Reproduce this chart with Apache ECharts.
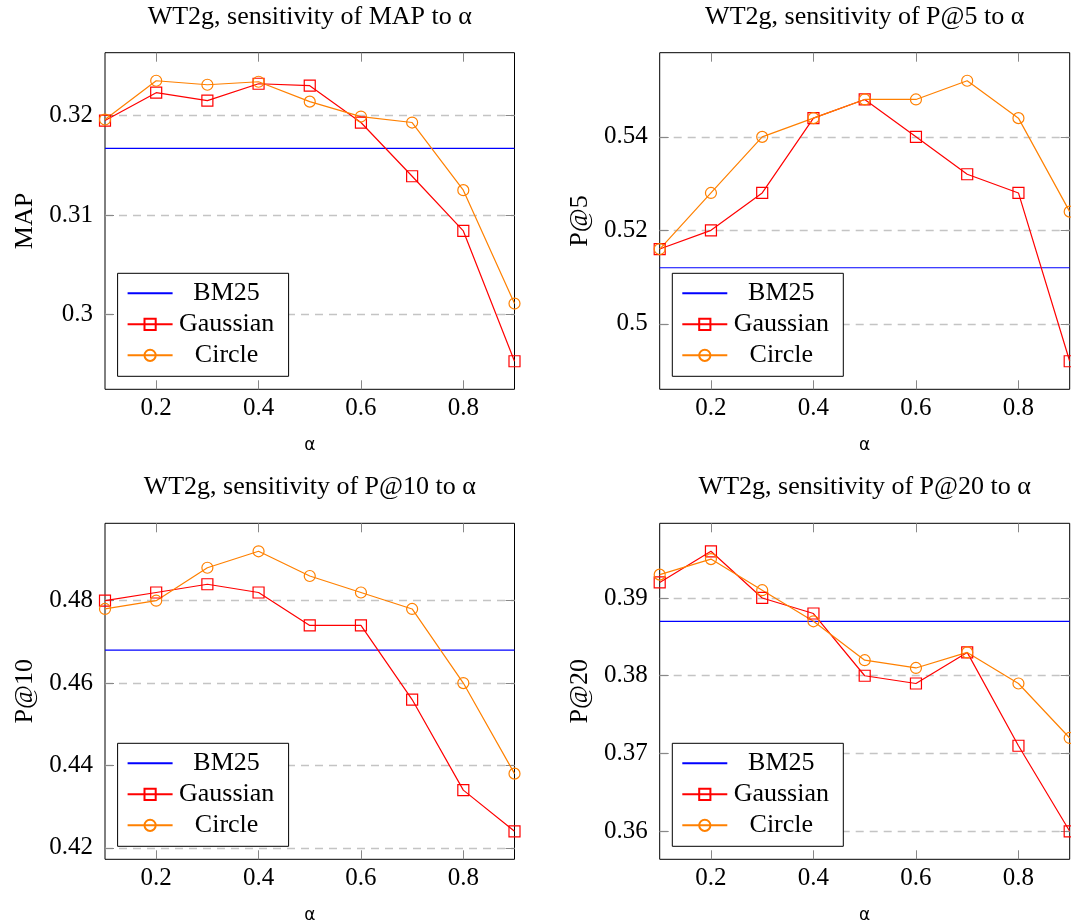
<!DOCTYPE html>
<html>
<head>
<meta charset="utf-8">
<script src="https://cdn.jsdelivr.net/npm/echarts@6/dist/echarts.min.js"></script>
<style>
  html, body { margin: 0; padding: 0; background: #fff; }
  #chart { width: 1071px; height: 920px; }
</style>
</head>
<body>
<div id="chart"></div>
<script>
// x values shared by all four panels
const alphas = [0.1, 0.2, 0.3, 0.4, 0.5, 0.6, 0.7, 0.8, 0.9];
const xTicks = [0.2, 0.4, 0.6, 0.8];

const mapGaussian = [0.3195, 0.3223, 0.3215, 0.3232, 0.3230, 0.3193, 0.3139, 0.3084, 0.2953];
const mapCircle = [0.3196, 0.3235, 0.3231, 0.3234, 0.3214, 0.3199, 0.3193, 0.3125, 0.3011];
const mapBM25 = 0.3167;
const mapTicks = [0.30, 0.31, 0.32];

const p5Gaussian = [0.516, 0.520, 0.528, 0.544, 0.548, 0.540, 0.532, 0.528, 0.492];
const p5Circle = [0.516, 0.528, 0.540, 0.544, 0.548, 0.548, 0.552, 0.544, 0.524];
const p5BM25 = 0.512;
const p5Ticks = [0.50, 0.52, 0.54];

const p10Gaussian = [0.480, 0.482, 0.484, 0.482, 0.474, 0.474, 0.456, 0.434, 0.424];
const p10Circle = [0.478, 0.480, 0.488, 0.492, 0.486, 0.482, 0.478, 0.460, 0.438];
const p10BM25 = 0.468;
const p10Ticks = [0.42, 0.44, 0.46, 0.48];

const p20Gaussian = [0.392, 0.396, 0.390, 0.388, 0.380, 0.379, 0.383, 0.371, 0.360];
const p20Circle = [0.393, 0.395, 0.391, 0.387, 0.382, 0.381, 0.383, 0.379, 0.372];
const p20BM25 = 0.387;
const p20Ticks = [0.36, 0.37, 0.38, 0.39];

const panels = [
  { title: "WT2g, sensitivity of MAP to α", yName: "MAP", gaussian: mapGaussian, circle: mapCircle, bm25: mapBM25, yTicks: mapTicks },
  { title: "WT2g, sensitivity of P@5 to α", yName: "P@5", gaussian: p5Gaussian, circle: p5Circle, bm25: p5BM25, yTicks: p5Ticks },
  { title: "WT2g, sensitivity of P@10 to α", yName: "P@10", gaussian: p10Gaussian, circle: p10Circle, bm25: p10BM25, yTicks: p10Ticks },
  { title: "WT2g, sensitivity of P@20 to α", yName: "P@20", gaussian: p20Gaussian, circle: p20Circle, bm25: p20BM25, yTicks: p20Ticks },
];

// plot areas in px
const layout = [
  { left: 105, top: 52.7, width: 409.5, height: 336.6 },
  { left: 659.7, top: 52.7, width: 410, height: 336.6 },
  { left: 105, top: 523.3, width: 409.5, height: 336 },
  { left: 659.7, top: 523.3, width: 410, height: 336 },
];

const serif = "Liberation Serif";
const red = "#ff0000";
const orange = "#ff8000";
const blue = "#0000ff";

// pgfplots-like enlarged limits (10% each side)
function yRange(p) {
  const all = p.gaussian.concat(p.circle, [p.bm25]);
  const lo = Math.min(...all), hi = Math.max(...all);
  const pad = (hi - lo) * 0.1;
  return [lo - pad, hi + pad];
}

const pairs = (ys) => alphas.map((a, i) => [a, ys[i]]);

const option = {
  animation: false,
  textStyle: { fontFamily: serif, color: "#000" },
  title: [], grid: [], xAxis: [], yAxis: [], legend: [], series: [],
};

panels.forEach((p, i) => {
  const g = layout[i];
  const [ymin, ymax] = yRange(p);
  const tickStyle = { inside: true, length: 9, lineStyle: { color: "#888", width: 1 } };

  option.grid.push({
    left: g.left, top: g.top, width: g.width, height: g.height,
    show: true, borderColor: "#000", borderWidth: 1,
    containLabel: false, outerBoundsMode: "none",
  });

  option.title.push({
    text: p.title, left: g.left + g.width / 2, top: g.top - 49, textAlign: "center", padding: 0,
    textStyle: { fontFamily: serif, fontSize: 26, fontWeight: "normal", color: "#000" },
  });

  // bottom + top x axes
  option.xAxis.push({
    type: "value", gridIndex: i, min: alphas[0], max: alphas[alphas.length - 1], position: "bottom",
    name: "α", nameLocation: "middle", nameGap: 48,
    nameTextStyle: { fontFamily: "DejaVu Sans", fontSize: 17, color: "#000" },
    axisLine: { show: false },
    axisTick: Object.assign({ customValues: xTicks }, tickStyle),
    axisLabel: { customValues: xTicks, margin: 7, fontSize: 25, fontFamily: serif, color: "#000" },
    splitLine: { show: false },
  });
  option.xAxis.push({
    type: "value", gridIndex: i, min: alphas[0], max: alphas[alphas.length - 1], position: "top",
    axisLine: { show: false },
    axisTick: Object.assign({ customValues: xTicks }, tickStyle),
    axisLabel: { show: false },
    splitLine: { show: false },
  });

  // left + right y axes
  option.yAxis.push({
    type: "value", gridIndex: i, min: ymin, max: ymax, position: "left",
    name: p.yName, nameLocation: "middle", nameGap: 67,
    nameTextStyle: { fontFamily: serif, fontSize: 26, color: "#000" },
    axisLine: { show: false },
    axisTick: Object.assign({ customValues: p.yTicks }, tickStyle),
    axisLabel: { customValues: p.yTicks, margin: 12, fontSize: 25, fontFamily: serif, color: "#000" },
    splitLine: { show: true, lineStyle: { color: "#c4c4c4", width: 1.3, type: [8, 6] } },
  });
  option.yAxis.push({
    type: "value", gridIndex: i, min: ymin, max: ymax, position: "right",
    axisLine: { show: false },
    axisTick: Object.assign({ customValues: p.yTicks }, tickStyle),
    axisLabel: { show: false },
    splitLine: { show: false },
  });

  const axes = { xAxisIndex: 2 * i, yAxisIndex: 2 * i };
  option.series.push(Object.assign({
    type: "line", name: "BM25", clip: false, symbol: "none",
    data: [[alphas[0], p.bm25], [alphas[alphas.length - 1], p.bm25]],
    lineStyle: { color: blue, width: 1.2 }, itemStyle: { color: blue, opacity: 0 },
  }, axes));
  option.series.push(Object.assign({
    type: "line", name: "Gaussian", clip: false, symbol: "rect", symbolSize: 11,
    data: pairs(p.gaussian),
    lineStyle: { color: red, width: 1.2 },
    itemStyle: { color: "rgba(0,0,0,0)", borderColor: red, borderWidth: 1.2 },
  }, axes));
  option.series.push(Object.assign({
    type: "line", name: "Circle", clip: false, symbol: "circle", symbolSize: 11,
    data: pairs(p.circle),
    lineStyle: { color: orange, width: 1.2 },
    itemStyle: { color: "rgba(0,0,0,0)", borderColor: orange, borderWidth: 1.2 },
  }, axes));

  option.legend.push({
    data: [
      { name: "BM25", itemStyle: { opacity: 0 } },
      "Gaussian",
      "Circle",
    ],
    orient: "vertical", selectedMode: false,
    left: g.left + 12.6, top: g.top + g.height - 116,
    padding: [7, 13, 8, 9], itemGap: 5, itemWidth: 45, itemHeight: 14,
    backgroundColor: "#fff", borderColor: "#000", borderWidth: 1, borderRadius: 0,
    formatter: (name) => "{t|" + name + "}",
    textStyle: {
      fontFamily: serif, fontSize: 26, color: "#000",
      rich: { t: { width: 98, align: "center", fontFamily: serif, fontSize: 26, lineHeight: 26 } },
    },
  });
});

const chart = echarts.init(document.getElementById("chart"));
chart.setOption(option);
</script>
</body>
</html>
